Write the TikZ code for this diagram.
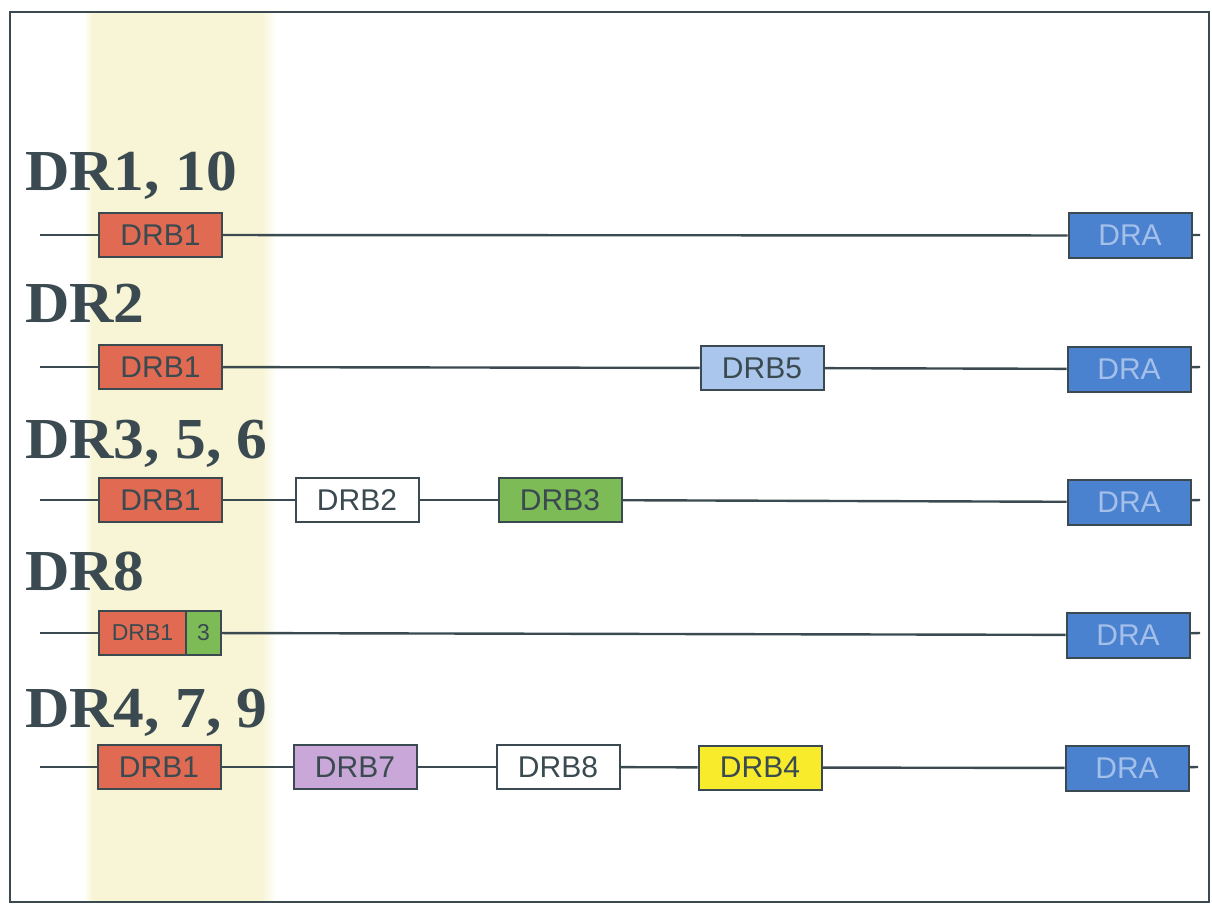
\documentclass[tikz,border=0pt]{standalone}
\usepackage{fontspec}
\setmainfont{Liberation Serif}
\newfontfamily\genefont{Liberation Sans}
\definecolor{ink}{HTML}{3A4A50}
\definecolor{band}{HTML}{F7F5D6}
\definecolor{drbred}{HTML}{E06B52}
\definecolor{drbgreen}{HTML}{7DBB57}
\definecolor{drbpale}{HTML}{AAC6EC}
\definecolor{drablue}{HTML}{4A82CF}
\definecolor{drapale}{HTML}{A4C0EA}
\definecolor{drbpurple}{HTML}{C9A8D9}
\definecolor{drbyellow}{HTML}{F7EB2C}
\tikzset{
  gene/.style={draw=ink, line width=2pt, minimum width=123pt, minimum height=44pt,
    inner sep=0pt, text=ink, font=\genefont\fontsize{30}{30}\selectfont},
  genesmall/.style={gene, font=\genefont\fontsize{23}{23}\selectfont},
  dra/.style={gene, fill=drablue, text=drapale, minimum height=45pt},
  chrom/.style={draw=ink, line width=2.4pt},
  haplo/.style={anchor=base west, inner sep=0pt, text=ink,
    font=\bfseries\fontsize{58}{58}\selectfont},
}
\newcommand{\haplotext}[1]{\scalebox{1.06}[1]{#1}}
\begin{document}
\begin{tikzpicture}[x=1pt,y=-1pt]
  \useasboundingbox (0,0) rectangle (1212,904);
  % shaded DRB1 column with soft edges
  \fill[band] (92,12) rectangle (262,902);
  \shade[left color=white, right color=band] (84,12) rectangle (92,902);
  \shade[left color=band, right color=white] (262,12) rectangle (276,902);
  % outer frame
  \draw[ink, line width=2pt] (10,12) rectangle (1209,902);

  % DR1, 10
  \node[haplo] (h1) at (25,190) {\haplotext{DR1, 10}};
  \coordinate (s1) at (40,235);
  \coordinate (e1) at (1200,235);
  \node[gene, fill=drbred] (r1b1) at (160.5,235) {DRB1};
  \node[dra] (r1a) at (1130,235.5) {DRA};
  \draw[chrom] (s1) -- (r1b1);
  \draw[chrom] (r1b1) -- (r1a);
  \draw[chrom] (r1a) -- (e1);

  % DR2
  \node[haplo] (h2) at (25,322) {\haplotext{DR2}};
  \coordinate (s2) at (40,367);
  \coordinate (e2) at (1200,367);
  \node[gene, fill=drbred] (r2b1) at (160.5,367) {DRB1};
  \node[gene, fill=drbpale] (r2b5) at (762,368) {DRB5};
  \node[dra] (r2a) at (1129,369) {DRA};
  \draw[chrom] (s2) -- (r2b1);
  \draw[chrom] (r2b1) -- (r2b5);
  \draw[chrom] (r2b5) -- (r2a);
  \draw[chrom] (r2a) -- (e2);

  % DR3, 5, 6
  \node[haplo] (h3) at (25,458) {\haplotext{DR3, 5, 6}};
  \coordinate (s3) at (40,500);
  \coordinate (e3) at (1200,500);
  \node[gene, fill=drbred] (r3b1) at (160.5,500) {DRB1};
  \node[gene, fill=white] (r3b2) at (357,500) {DRB2};
  \node[gene, fill=drbgreen] (r3b3) at (560,500) {DRB3};
  \node[dra] (r3a) at (1129,502) {DRA};
  \draw[chrom] (s3) -- (r3b1);
  \draw[chrom] (r3b1) -- (r3b2);
  \draw[chrom] (r3b2) -- (r3b3);
  \draw[chrom] (r3b3) -- (r3a);
  \draw[chrom] (r3a) -- (e3);

  % DR8
  \node[haplo] (h4) at (25,590) {\haplotext{DR8}};
  \coordinate (s4) at (40,633);
  \coordinate (e4) at (1200,633);
  \node[genesmall, fill=drbred, minimum width=87pt] (r4b1) at (142.5,633) {DRB1};
  \node[genesmall, fill=drbgreen, minimum width=35pt] (r4b3) at (203.5,633) {3};
  \node[dra] (r4a) at (1128,635) {DRA};
  \draw[chrom] (s4) -- (r4b1);
  \draw[chrom] (r4b3) -- (r4a);
  \draw[chrom] (r4a) -- (e4);

  % DR4, 7, 9
  \node[haplo] (h5) at (25,727) {\haplotext{DR4, 7, 9}};
  \coordinate (s5) at (40,767);
  \coordinate (e5) at (1198,767);
  \node[gene, fill=drbred] (r5b1) at (159,767) {DRB1};
  \node[gene, fill=drbpurple] (r5b7) at (355,767) {DRB7};
  \node[gene, fill=white] (r5b8) at (558,767) {DRB8};
  \node[gene, fill=drbyellow] (r5b4) at (760,767.5) {DRB4};
  \node[dra] (r5a) at (1127,768) {DRA};
  \draw[chrom] (s5) -- (r5b1);
  \draw[chrom] (r5b1) -- (r5b7);
  \draw[chrom] (r5b7) -- (r5b8);
  \draw[chrom] (r5b8) -- (r5b4);
  \draw[chrom] (r5b4) -- (r5a);
  \draw[chrom] (r5a) -- (e5);
\end{tikzpicture}
\end{document}
